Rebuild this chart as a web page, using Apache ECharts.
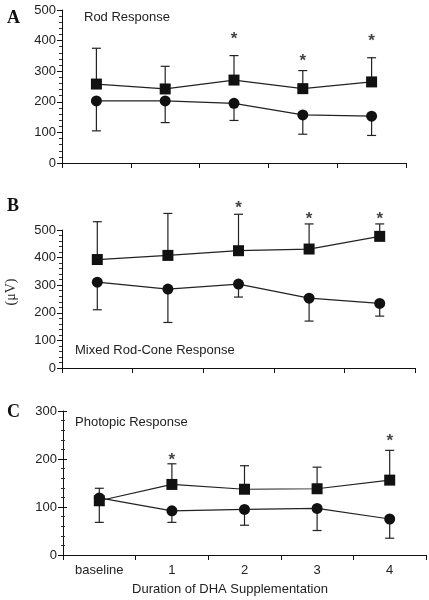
<!DOCTYPE html>
<html><head><meta charset="utf-8">
<script src="https://cdn.jsdelivr.net/npm/echarts@6/dist/echarts.min.js"></script>
<style>html,body{margin:0;padding:0;background:#fff}#c{width:429px;height:600px}</style>
</head><body><div id="c"></div>
<script>
var categories = ['baseline', '1', '2', '3', '4'];
var yTicksA = [0, 100, 200, 300, 400, 500];
var yTicksB = [0, 100, 200, 300, 400, 500];
var yTicksC = [0, 100, 200, 300];

var rodSquare = [258, 242, 271, 243, 265];
var rodSquareUpper = [375, 316, 351, 302, 344];
var rodCircle = [203, 203, 195, 157, 153];
var rodCircleLower = [105, 132, 139, 94, 90];
var rodStars = [null, null, 420, 350, 414];

var mixSquare = [393, 408, 425, 431, 477];
var mixSquareUpper = [530, 560, 557, 522, 522];
var mixCircle = [311, 286, 304, 253, 234];
var mixCircleLower = [211, 165, 257, 170, 188];
var mixStars = [null, null, 596, 557, 557];

var phoSquare = [113, 147, 137, 138, 156];
var phoSquareUpper = [139, 190, 186, 183, 218];
var phoCircle = [119, 92, 95, 97, 75];
var phoCircleLower = [68, 68, 62, 51, 35];
var phoStars = [null, 208, null, null, 248];

var FONT = 'Liberation Sans, Arial, sans-serif';
var INK = '#111';

function errData(vals, ends) {
  return vals.map(function (v, i) { return [i, v, ends[i]]; });
}
function starData(vals) {
  var out = [];
  vals.forEach(function (v, i) { if (v != null) out.push([i, v]); });
  return out;
}
function errSeries(vals, ends, gi) {
  return {
    type: 'custom', xAxisIndex: gi, yAxisIndex: gi, z: 1, clip: false,
    data: errData(vals, ends),
    renderItem: function (params, api) {
      var p0 = api.coord([api.value(0), api.value(1)]);
      var p1 = api.coord([api.value(0), api.value(2)]);
      var w = 4.5;
      return {
        type: 'group',
        children: [
          { type: 'line', shape: { x1: p0[0], y1: p0[1], x2: p1[0], y2: p1[1] }, style: { stroke: '#222', lineWidth: 1.2 } },
          { type: 'line', shape: { x1: p1[0] - w, y1: p1[1], x2: p1[0] + w, y2: p1[1] }, style: { stroke: '#222', lineWidth: 1.2 } }
        ]
      };
    }
  };
}
function lineSeries(vals, sym, size, gi) {
  return {
    type: 'line', xAxisIndex: gi, yAxisIndex: gi, data: vals, z: 3,
    symbol: sym, symbolSize: size, showAllSymbol: true,
    lineStyle: { color: '#222', width: 1.2 },
    itemStyle: { color: INK, borderWidth: 0 },
    animation: false
  };
}
function starSeries(vals, gi) {
  return {
    type: 'scatter', xAxisIndex: gi, yAxisIndex: gi, data: starData(vals), clip: false,
    symbolSize: 0, z: 5,
    label: { show: true, position: 'inside', formatter: '*', fontFamily: FONT, fontSize: 17, fontWeight: 'bold', color: INK, offset: [0, 5] }
  };
}
function xAx(gi, showLabels) {
  return {
    type: 'category', gridIndex: gi, data: categories, boundaryGap: true,
    axisLine: { lineStyle: { color: INK, width: 1 } },
    axisTick: { show: true, length: 5, lineStyle: { color: INK } },
    axisLabel: { show: showLabels, fontFamily: FONT, fontSize: 13, color: '#222', margin: 9 },
    splitLine: { show: false }
  };
}
function yAx(gi, ticks) {
  return {
    type: 'value', gridIndex: gi, position: 'left', min: ticks[0], max: ticks[ticks.length - 1], interval: ticks[1] - ticks[0],
    axisLine: { show: true, onZero: false, lineStyle: { color: INK, width: 1 } },
    axisTick: { show: true, length: 5, lineStyle: { color: INK } },
    minorTick: { show: true, splitNumber: 5, length: 3, lineStyle: { color: '#333' } },
    axisLabel: { fontFamily: FONT, fontSize: 13, color: '#222', margin: 6 },
    splitLine: { show: false }
  };
}

var yInnerC = yAx(2, yTicksC);
yInnerC.axisTick = { show: true, inside: true, length: 4, lineStyle: { color: INK } };
yInnerC.minorTick = { show: true, splitNumber: 5, length: 2, lineStyle: { color: '#333' } };
yInnerC.axisLabel = { show: false };
yInnerC.axisLine = { show: false };
yInnerC.offset = 0;

var ySeriesC = yAx(2, yTicksC);
ySeriesC.minorTick = { show: true, splitNumber: 5, length: 2, lineStyle: { color: '#333' } };

var option = {
  animation: false,
  backgroundColor: '#fff',
  grid: [
    { left: 62, right: 23, top: 10, height: 153 },
    { left: 62, right: 14, top: 230, height: 138 },
    { left: 63, right: 3, top: 411, height: 144 }
  ],
  xAxis: [xAx(0, false), xAx(1, false), xAx(2, true)],
  yAxis: [yAx(0, yTicksA), yAx(1, yTicksB), ySeriesC, yInnerC],
  series: [
    errSeries(rodSquare, rodSquareUpper, 0), errSeries(rodCircle, rodCircleLower, 0),
    lineSeries(rodSquare, 'rect', 11, 0), lineSeries(rodCircle, 'circle', 11, 0), starSeries(rodStars, 0),
    errSeries(mixSquare, mixSquareUpper, 1), errSeries(mixCircle, mixCircleLower, 1),
    lineSeries(mixSquare, 'rect', 11, 1), lineSeries(mixCircle, 'circle', 11, 1), starSeries(mixStars, 1),
    errSeries(phoSquare, phoSquareUpper, 2), errSeries(phoCircle, phoCircleLower, 2),
    lineSeries(phoSquare, 'rect', 11, 2), lineSeries(phoCircle, 'circle', 11, 2), starSeries(phoStars, 2)
  ],
  graphic: [
    { type: 'text', left: 7, top: 9, style: { text: 'A', font: 'bold 18px "Liberation Serif", serif', fill: INK } },
    { type: 'text', left: 7, top: 197, style: { text: 'B', font: 'bold 18px "Liberation Serif", serif', fill: INK } },
    { type: 'text', left: 7, top: 403, style: { text: 'C', font: 'bold 18px "Liberation Serif", serif', fill: INK } },
    { type: 'text', left: 84, top: 11, style: { text: 'Rod Response', font: '13px "Liberation Sans", Arial, sans-serif', fill: '#222' } },
    { type: 'text', left: 75, top: 344, style: { text: 'Mixed Rod-Cone Response', font: '13px "Liberation Sans", Arial, sans-serif', fill: '#222' } },
    { type: 'text', left: 75, top: 416, style: { text: 'Photopic Response', font: '13px "Liberation Sans", Arial, sans-serif', fill: '#222' } },
    { type: 'text', x: 230, y: 589, style: { text: 'Duration of DHA Supplementation', font: '13px "Liberation Sans", Arial, sans-serif', fill: '#222', align: 'center', verticalAlign: 'middle' } },
    { type: 'text', x: 11, y: 292, rotation: Math.PI / 2, style: { text: '(\u03bcV)', font: '14px "Liberation Serif", serif', fill: '#222', align: 'center', verticalAlign: 'middle' } }
  ]
};
var chart = echarts.init(document.getElementById('c'), null, { renderer: 'canvas' });
chart.setOption(option);
</script></body></html>
